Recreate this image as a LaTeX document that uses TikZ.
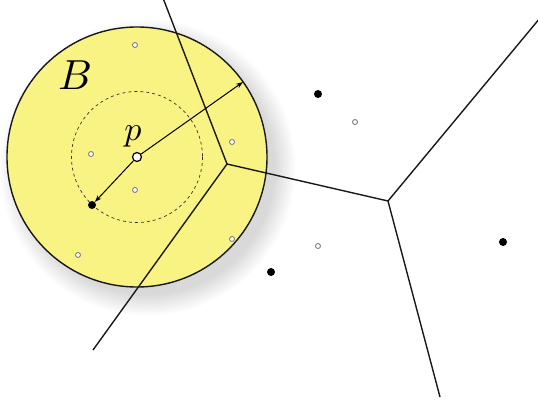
\documentclass[tikz,border=0pt]{standalone}
\usetikzlibrary{shadows,arrows.meta}
\definecolor{ballyellow}{RGB}{249,243,132}
\definecolor{sitegrey}{RGB}{130,130,130}
\begin{document}
\begin{tikzpicture}[x=1pt,y=-1pt,
  site/.style={circle,fill=black,inner sep=0pt,minimum size=8pt},
  query/.style={circle,draw=sitegrey,fill=white,line width=0.9pt,inner sep=0pt,minimum size=5pt},
  vedge/.style={line width=1.4pt,black!90},
  arr/.style={line width=1pt,-{Stealth[length=7pt,width=5pt]}}]
\useasboundingbox (0,0) rectangle (538,404);
% ball with shadow
\fill[ballyellow,circular drop shadow={shadow xshift=9pt,shadow yshift=-9pt,shadow scale=1.14,opacity=0.3}] (137,157) circle (130);
\draw[line width=1.4pt,black!90] (137,157) circle (130);
\draw[dashed,line width=0.7pt,black!80] (137,157) circle (65.5);
% Voronoi vertices and ends
\coordinate (v1) at (227,164);
\coordinate (v2) at (388,201);
\coordinate (e1) at (163,-2);
\coordinate (e2) at (93,350);
\coordinate (e3) at (540,18);
\coordinate (e4) at (440,397);
\draw[vedge] (e1) -- (v1) -- (e2);
\draw[vedge] (v1) -- (v2) -- (e3);
\draw[vedge] (v2) -- (e4);
% grey query points
\node[query] (q1) at (135,45) {};
\node[query] (q2) at (91,154) {};
\node[query] (q3) at (135,190) {};
\node[query] (q4) at (232,142) {};
\node[query] (q5) at (232,239) {};
\node[query] (q6) at (78,255) {};
\node[query] (q7) at (355,122) {};
\node[query] (q8) at (318,246) {};
% black sites
\node[site] (s1) at (92,205) {};
\node[site] (s2) at (318,94) {};
\node[site] (s3) at (271,272) {};
\node[site] (s4) at (503,242) {};
% center p
\coordinate (rim) at (243,82);
\node[circle,draw=black,fill=white,line width=1.2pt,inner sep=0pt,minimum size=9pt] (p) at (137,157) {};
\draw[arr] (p) -- (s1);
\draw[arr] (p) -- (rim);
\node[scale=3.4] (plabel) at (133,136) {$p$};
\node[scale=4.2] (blabel) at (75,75) {$B$};
\end{tikzpicture}
\end{document}
